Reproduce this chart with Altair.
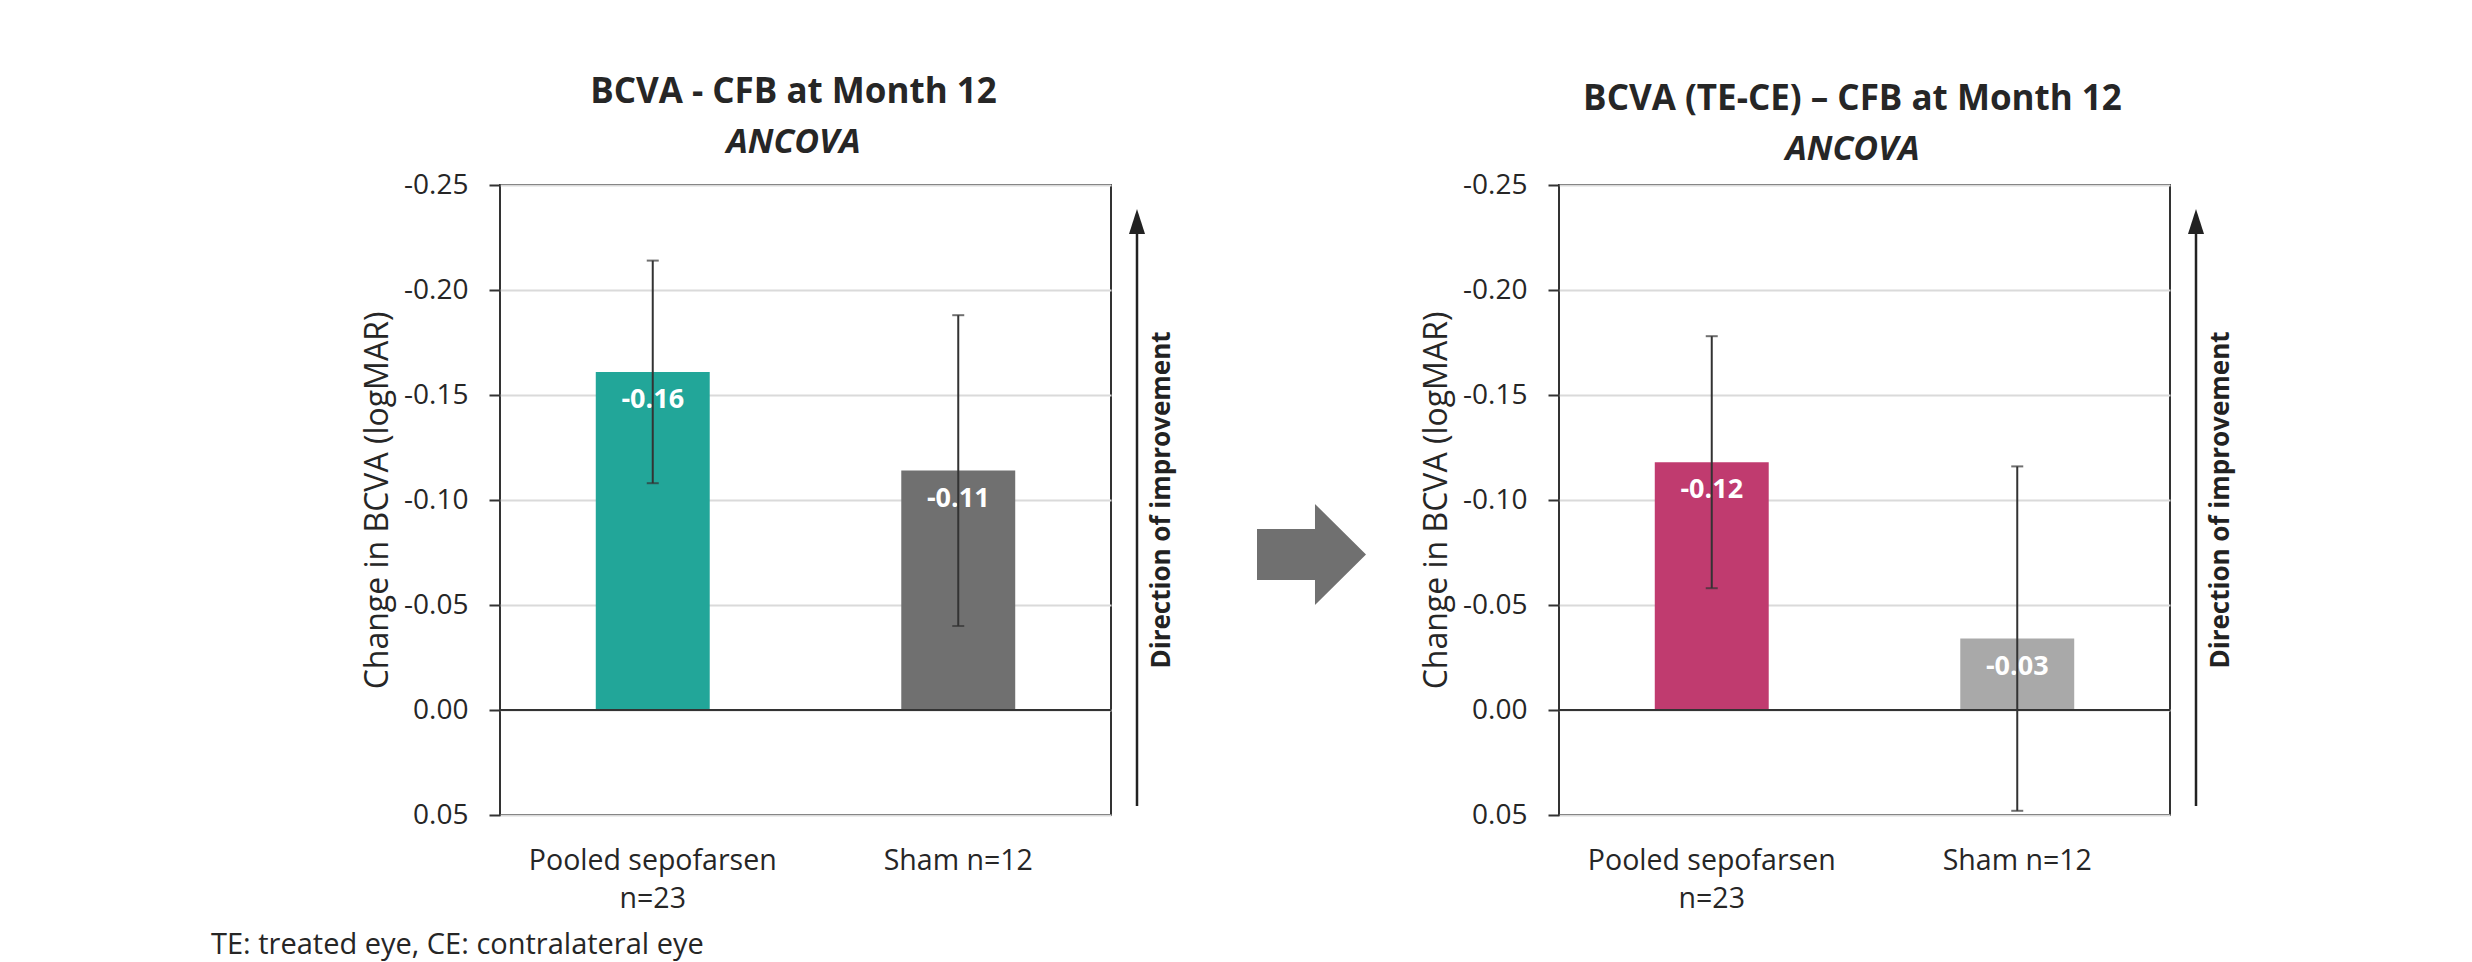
import altair as alt
import pandas as pd

# ---- data ----
groups = ["Pooled sepofarsen n=23", "Sham n=12"]

left_means = [-0.161, -0.114]
left_lo = [-0.108, -0.040]
left_hi = [-0.214, -0.188]
left_labels = ["-0.16", "-0.11"]
left_colors = ["#22A699", "#707070"]

right_means = [-0.118, -0.034]
right_lo = [-0.058, 0.048]
right_hi = [-0.178, -0.116]
right_labels = ["-0.12", "-0.03"]
right_colors = ["#C03B6F", "#A9A9A9"]

y_ticks = [-0.25, -0.20, -0.15, -0.10, -0.05, 0.00, 0.05]
y_domain = [-0.25, 0.05]

left_title = "BCVA - CFB at Month 12"
right_title = "BCVA (TE-CE) \u2013 CFB at Month 12"
subtitle = "ANCOVA"
y_title = "Change in BCVA (logMAR)"
direction_text = "Direction of improvement"
footnote = "TE: treated eye, CE: contralateral eye"

FONT = "Open Sans"
DARK = "#262626"
W, H = 611, 630


def make_panel(means, lo, hi, labels, colors, title, title_offset, extra_layers=()):
    df = pd.DataFrame(
        {"group": groups, "mean": means, "lo": lo, "hi": hi, "label": labels, "color": colors}
    )
    base = alt.Chart(df)
    x = alt.X(
        "group:N",
        sort=groups,
        scale=alt.Scale(paddingInner=0.627, paddingOuter=0.3135),
        axis=alt.Axis(
            title=None,
            labelAngle=0,
            ticks=False,
            tickSize=0,
            domain=False,
            labelFontSize=28.5,
            labelPadding=31,
            labelLineHeight=38.5,
            labelLimit=0,
            labelExpr="datum.label == 'Pooled sepofarsen n=23' ? ['Pooled sepofarsen', 'n=23'] : datum.label",
        ),
    )
    yscale = alt.Scale(domain=y_domain, reverse=True, nice=False, zero=False)
    y = alt.Y(
        "mean:Q",
        scale=yscale,
        axis=alt.Axis(
            values=y_ticks,
            labelExpr="(datum.value < 0 ? '-' : '') + format(abs(datum.value), '.2f')",
            title=y_title,
            titleFontSize=32,
            titleFontWeight="normal",
            titlePadding=9,
            tickSize=11,
            tickWidth=2,
            tickColor="#333333",
            labelPadding=21,
            labelFontSize=28,
            domain=False,
            grid=True,
            gridColor="#DADADA",
            gridWidth=2,
        ),
    )
    bars = base.mark_bar().encode(
        x=x,
        y=y,
        y2=alt.datum(0),
        color=alt.Color("color:N", scale=None, legend=None),
    )
    zero = base.mark_rule(color="#333333", strokeWidth=2).encode(y=alt.datum(0))
    txt = base.mark_text(
        color="white", fontWeight="bold", fontSize=27, font=FONT, baseline="alphabetic", dy=36
    ).encode(x=x, y=y, text="label:N")
    err = base.mark_rule(color="#333333", strokeWidth=2).encode(x=x, y=alt.Y("lo:Q", scale=yscale), y2="hi:Q")
    cap_lo = base.mark_tick(color="#333333", thickness=2, size=12).encode(x=x, y=alt.Y("lo:Q", scale=yscale))
    cap_hi = base.mark_tick(color="#333333", thickness=2, size=12).encode(x=x, y=alt.Y("hi:Q", scale=yscale))

    one = alt.Chart(pd.DataFrame({"k": [0]}))
    arrow_line = one.mark_rule(color="#222222", strokeWidth=2.5).encode(
        x=alt.value(W + 26), y=alt.value(34), y2=alt.value(H - 9)
    )
    arrow_head = one.mark_point(
        shape="M0,-1L-0.64,1L0.64,1Z", filled=True, size=625, color="#222222", opacity=1, strokeWidth=0
    ).encode(x=alt.value(W + 26), y=alt.value(36.5))
    direction = one.mark_text(
        text=direction_text, angle=270, fontSize=26, fontWeight="bold", font=FONT, color="#222222",
        align="center", baseline="middle",
    ).encode(x=alt.value(W + 51), y=alt.value(H / 2))

    layers = [bars, zero, txt, err, cap_lo, cap_hi, arrow_line, arrow_head, direction] + list(extra_layers)
    return alt.layer(*layers).properties(
        width=W,
        height=H,
        title=alt.TitleParams(
            text=title,
            subtitle=subtitle,
            font=FONT,
            fontSize=35,
            fontWeight="bold",
            color=DARK,
            subtitleFont=FONT,
            subtitleFontSize=34,
            subtitleFontWeight="bold",
            subtitleFontStyle="italic",
            subtitleColor=DARK,
            subtitlePadding=16,
            anchor="middle",
            frame="group",
            dx=-12,
            offset=title_offset,
        ),
    )


one = alt.Chart(pd.DataFrame({"k": [0]}))
big_arrow = one.mark_point(
    shape="M-1,-0.468L0.064,-0.468L0.064,-0.927L1,0L0.064,0.927L0.064,0.468L-1,0.468Z",
    filled=True, size=11881, color="#707070", opacity=1, strokeWidth=0,
).encode(x=alt.value(811.5), y=alt.value(369.5))
foot = one.mark_text(
    text=footnote, align="left", baseline="alphabetic", fontSize=29, font=FONT, color=DARK
).encode(x=alt.value(-289), y=alt.value(769))

left = make_panel(left_means, left_lo, left_hi, left_labels, left_colors, left_title, 11, [big_arrow, foot])
right = make_panel(right_means, right_lo, right_hi, right_labels, right_colors, right_title, 4)

chart = (
    alt.hconcat(left, right, spacing=52)
    .properties(padding={"left": 202, "top": 66, "right": 10, "bottom": 0})
    .configure_view(stroke="#333333", strokeWidth=2)
    .configure_axis(labelFont=FONT, titleFont=FONT, labelColor=DARK, titleColor=DARK)
    .configure_text(font=FONT)
)

chart.save("out.html", embed_options={"renderer": "svg", "actions": False})
